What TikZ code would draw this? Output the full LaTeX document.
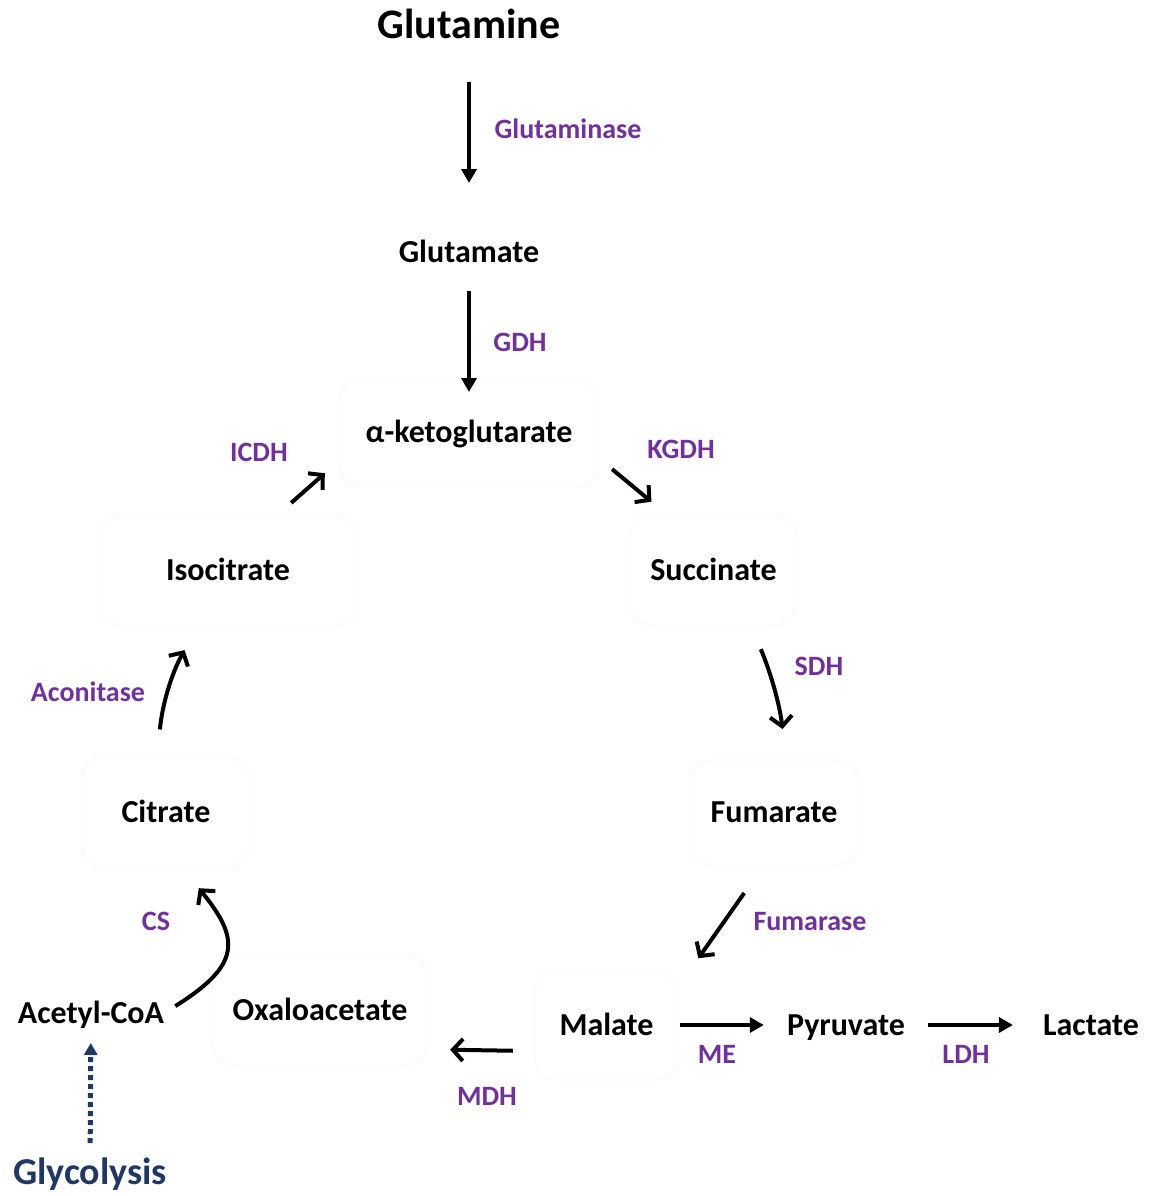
\documentclass[tikz,border=0pt]{standalone}
\usepackage{fontspec}
\setmainfont{Carlito}
\usetikzlibrary{arrows.meta}

\definecolor{enzpurple}{HTML}{7030A0}
\definecolor{glycblue}{HTML}{203864}

\tikzset{
  met/.style={font=\bfseries\fontsize{32}{36}\selectfont, inner sep=0pt, text height=20pt, text depth=0pt},
  cyc/.style={met, draw=black!5, line width=0.4pt, rounded corners=22pt},
  enz/.style={font=\bfseries\fontsize{28}{32}\selectfont, text=enzpurple, inner sep=0pt, text height=17.5pt, text depth=0pt},
  fwd/.style={line width=3.5pt, -{Triangle[length=14pt,width=15pt]}},
  turn/.style={line width=4pt, -{Straight Barb[length=10pt,width=22pt]}},
}

\begin{document}
\begin{tikzpicture}[x=1pt,y=1pt]
\useasboundingbox (0,0) rectangle (1152,-1196);

% entry from glutamine
\node[met, font=\bfseries\fontsize{42}{46}\selectfont, text height=26.5pt] (gln) at (469,-25) {Glutamine};
\node[met] (glu) at (469,-252) {Glutamate};

% TCA cycle intermediates
\node[cyc, minimum width=258pt, minimum height=109pt] (akg) at (469,-432.5) {α-ketoglutarate};
\node[cyc, minimum width=167pt, minimum height=110pt] (suc) at (713.5,-570) {Succinate};
\node[cyc, minimum width=168pt, minimum height=105pt] (fum) at (774,-812.5) {Fumarate};
\node[cyc, minimum width=143pt, minimum height=110pt] (mal) at (606.5,-1025) {Malate};
\node[cyc, minimum width=216pt, minimum height=110pt] (oaa) at (320,-1010) {Oxaloacetate};
\node[cyc, minimum width=168pt, minimum height=110pt] (cit) at (166,-812) {Citrate};
\node[cyc, minimum width=260pt, minimum height=110pt] (iso) at (228,-570) {Isocitrate};

% side products
\node[met] (pyr) at (846,-1025) {Pyruvate};
\node[met] (lac) at (1091,-1025) {Lactate};
\node[met] (acoa) at (91,-1013) {Acetyl-CoA};
\node[met, font=\bfseries\fontsize{38}{42}\selectfont, text=glycblue, text height=24pt] (glyc) at (90,-1172) {Glycolysis};

% enzymes
\node[enz] (gls) at (568,-130) {Glutaminase};
\node[enz] (gdh) at (520,-343) {GDH};
\node[enz] (kgdh) at (681,-450) {KGDH};
\node[enz] (sdh) at (819,-667) {SDH};
\node[enz] (fh) at (810,-922) {Fumarase};
\node[enz] (me) at (717,-1055) {ME};
\node[enz] (ldh) at (966,-1055) {LDH};
\node[enz] (mdh) at (487,-1097) {MDH};
\node[enz] (cs) at (156,-922) {CS};
\node[enz] (aco) at (88,-693) {Aconitase};
\node[enz] (icdh) at (259,-453) {ICDH};

\draw[fwd, shorten <=57pt, shorten >=69pt] (gln.center) -- (glu.center);
\draw[fwd, shorten <=39pt, shorten >=40.5pt] (glu.center) -- (akg.center);

% around the cycle
\draw[turn, shorten <=18pt, shorten >=20.5pt] (akg.-11.4) -- (suc.130.3);
\draw[turn, shorten <=26pt, shorten >=31pt] (suc.-56.1) to[bend left=8] (fum.77.2);
\draw[turn, shorten <=34pt, shorten >=35pt] (fum.-101) -- (mal.28.4);
\draw[turn, shorten <=22pt, shorten >=22pt] (mal.-160) -- (oaa.-20.3);
\draw[turn, shorten <=13pt, shorten >=27pt] (acoa.east) to[out=32, in=-51, looseness=1.6] (cit.-74);
\draw[turn, shorten <=27.5pt, shorten >=28.6pt] (cit.99) to[bend left=12] (iso.-118.6);
\draw[turn, shorten <=18pt, shorten >=20pt] (iso.48.6) -- (akg.-168.5);

\draw[fwd, shorten <=2pt, shorten >=23pt] (mal.east) -- (mal.east -| pyr.west);
\draw[fwd, shorten <=23pt, shorten >=30pt] (pyr.east) -- (pyr.east -| lac.west);

%\draw[glycblue, dotted] (glyc) -- (acoa);
\draw[glycblue, line width=5pt, dash pattern=on 5pt off 4pt, -{Triangle[length=12pt,width=13pt]}, shorten <=29pt, shorten >=30pt] (glyc.center) -- (acoa.center);

\end{tikzpicture}
\end{document}
